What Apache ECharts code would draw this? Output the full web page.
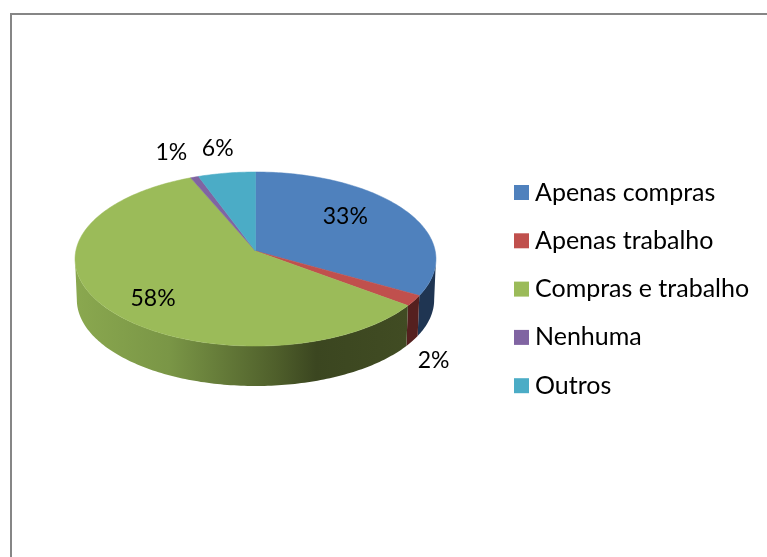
<!DOCTYPE html>
<html>
<head>
<meta charset="utf-8">
<style>html,body{margin:0;padding:0;background:#fff}#c{width:767px;height:557px}</style>
<script src="https://cdn.jsdelivr.net/npm/echarts@6/dist/echarts.min.js"></script>
</head>
<body>
<div id="c"></div>
<script>
// Data
const categories = ['Apenas compras', 'Apenas trabalho', 'Compras e trabalho', 'Nenhuma', 'Outros'];
const shares = [33.2, 2.0, 58.4, 0.8, 5.6];

// Styles
const topColors = ['#4f81bd', '#c0504d', '#9bbb59', '#8064a2', '#4bacc6'];
const sideColors = ['#1f3552', '#55201f', null, '#35294a', '#1f4a55'];
const greenSide = [
  {offset: 0, color: '#8aa84f'}, {offset: 0.28, color: '#7a9646'}, {offset: 0.6, color: '#4f5f2b'},
  {offset: 0.72, color: '#3b4620'}, {offset: 1, color: '#414c23'}
];

// Layout: perspective projection of the pie disc
const P = {ax: 255.5, ay: 251, A: 179.7, B: 86.3, k: 0.092, low: {ay: 291.9, s: 0.99}};
const labelRadius = [0.66, 1.445, 0.756, 1.371, 1.347];
const labelTurn = [-8, 19, -6, -0.8, 0];
const FONT = 'Lato';
const LABEL_FS = 23;
const LEGEND_FS = 25;

const total = shares.reduce((a, b) => a + b, 0);
// The wall is visible only between the two silhouette angles of the projected disc
const frontStart = Math.acos(-P.k) * 180 / Math.PI;
const frontEnd = 360 - frontStart;

function project(deg, r, lower) {
  const t = deg * Math.PI / 180;
  const u = r * Math.sin(t), v = -r * Math.cos(t);
  const d = 1 - P.k * v;
  const s = lower ? P.low.s : 1;
  const ay = lower ? P.low.ay : P.ay;
  return [P.ax + s * P.A * u / d, ay + s * P.B * v / d];
}
function arc(a0, a1, lower) {
  const pts = [], n = Math.max(2, Math.ceil(Math.abs(a1 - a0) / 1));
  for (let i = 0; i <= n; i++) pts.push(project(a0 + (a1 - a0) * i / n, 1, lower));
  return pts;
}

let cum = 0;
const series = categories.map((name, i) => {
  const start = cum / total * 360;
  cum += shares[i];
  const end = cum / total * 360;
  return {
    type: 'custom',
    name,
    coordinateSystem: 'none',
    itemStyle: {color: topColors[i]},
    silent: true,
    data: [[shares[i]]],
    renderItem: function () {
      const rim = arc(start, end, false);
      const children = [];
      const s0 = Math.max(start, frontStart), s1 = Math.min(end, frontEnd);
      if (s1 > s0) {
        const fill = sideColors[i] || new echarts.graphic.LinearGradient(75, 0, 410, 0, greenSide, true);
        const wall = arc(s0, s1, false).concat(arc(s0, s1, true).reverse());
        children.push({type: 'polygon', z2: 1, shape: {points: wall}, style: {fill: fill}});
      }
      const mid = (start + end) / 2 + labelTurn[i];
      const lp = project(mid, labelRadius[i], false);
      children.push(
        {type: 'polygon', z2: 10, shape: {points: [[P.ax, P.ay]].concat(rim)}, style: {fill: topColors[i], stroke: topColors[i], lineWidth: 0.5}},
        {type: 'text', z2: 20, x: lp[0], y: lp[1], style: {
          text: Math.round(shares[i] / total * 100) + '%',
          fill: '#000', font: LABEL_FS + 'px ' + FONT, align: 'center', verticalAlign: 'middle'
        }}
      );
      return {type: 'group', children};
    }
  };
});

const chart = echarts.init(document.getElementById('c'), null, {renderer: 'canvas'});
chart.setOption({
  animation: false,
  backgroundColor: '#fff',
  legend: {
    orient: 'vertical',
    left: 514,
    top: 179.5,
    padding: 0,
    itemWidth: 15,
    itemHeight: 15,
    itemGap: 22.3,
    selectedMode: false,
    icon: 'rect',
    data: categories,
    formatter: n => n,
    textStyle: {fontFamily: FONT, fontSize: LEGEND_FS, color: '#000', padding: [0, 0, 0, 1], lineHeight: 26}
  },
  graphic: [
    {type: 'polyline', silent: true, shape: {points: [[11, 557], [11, 14], [767, 14]]}, style: {stroke: '#868686', lineWidth: 2, fill: null}}
  ],
  series
});
</script>
</body>
</html>
